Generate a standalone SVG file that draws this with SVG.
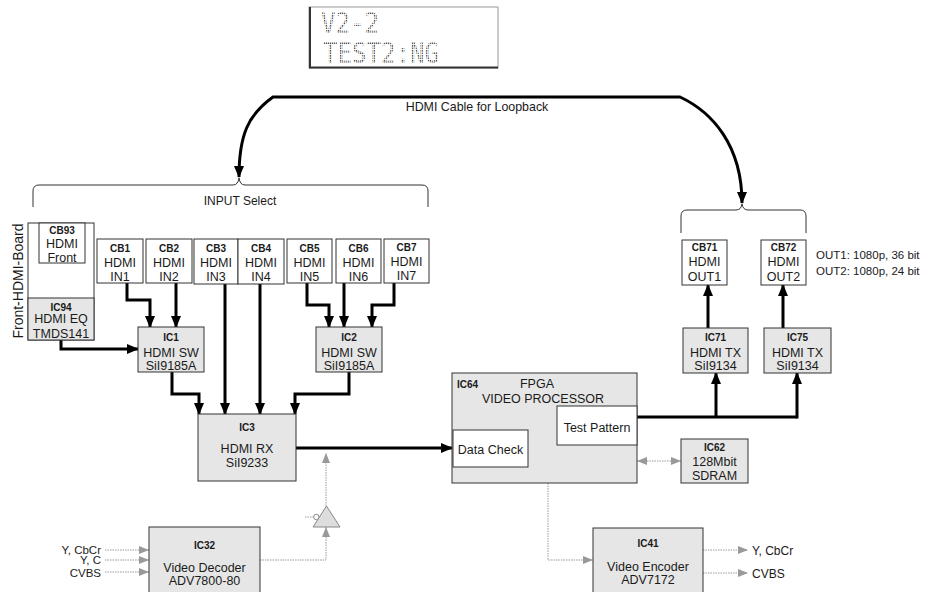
<svg xmlns="http://www.w3.org/2000/svg" width="925" height="592" viewBox="0 0 925 592">
<defs>
<style>
.box{fill:#fff;stroke:#333;stroke-width:1}
.gbox{fill:#e6e6e6;stroke:#333;stroke-width:1}
.t{font-family:"Liberation Sans",Arial,sans-serif;font-size:12.5px;text-anchor:middle;fill:#1a1a1a}
.b{font-weight:bold;font-size:10px}
.s{font-size:12px}
.thick{stroke:#000;stroke-width:3;fill:none;stroke-linejoin:miter;marker-end:url(#ah)}
.dot{stroke:#9a9a9a;stroke-width:1;stroke-dasharray:1.5 1;fill:none}
.ga{marker-end:url(#gh)}
.brace{stroke:#333;stroke-width:1;fill:none}
.lcd{font-family:"DejaVu Sans Mono",monospace;font-size:23px;fill:url(#dots)}
</style>
<marker id="ah" viewBox="0 0 12 10" markerWidth="12" markerHeight="10" refX="11" refY="5" orient="auto-start-reverse" markerUnits="userSpaceOnUse">
<path d="M0,0 L12,5 L0,10 z" fill="#000"/>
</marker>
<marker id="gh" viewBox="0 0 10 8" markerWidth="10" markerHeight="8" refX="10" refY="4" orient="auto-start-reverse" markerUnits="userSpaceOnUse">
<path d="M0,0 L10,4 L0,8 z" fill="#999"/>
</marker>
<pattern id="dots" width="2" height="2" patternUnits="userSpaceOnUse">
<rect x="0" y="0" width="1.3" height="1.3" fill="#555"/>
</pattern>
</defs>
<rect width="925" height="592" fill="#fff"/>

<g id="lcd">
<rect x="309" y="7" width="189" height="61" fill="#fff" stroke="#999" stroke-width="1"/>
<line x1="310" y1="7" x2="310" y2="68" stroke="#333" stroke-width="2"/>
<line x1="309" y1="67.5" x2="498" y2="67.5" stroke="#333" stroke-width="2"/>
<g transform="scale(1,1.25)">
<text class="lcd" x="321" y="26.4" textLength="58" lengthAdjust="spacingAndGlyphs">V2-2</text>
<text class="lcd" x="323" y="50.4" textLength="116" lengthAdjust="spacingAndGlyphs">TEST2:NG</text>
</g>
</g>

<g id="connectors">
<path d="M239,177 C239,135 248,115 273,97 L680,97 C712,112 742,145 742,203" stroke="#000" stroke-width="3" fill="none" marker-start="url(#ah)" marker-end="url(#ah)"/>
<path class="brace" d="M33,207 L33,191 Q33,185 39,185 L233,185 Q238,185 239,178 Q240,185 245,185 L422,185 Q428,185 428,191 L428,207"/>
<path class="brace" d="M681,233 L681,216 Q681,210 687,210 L736,210 Q741,210 742,204 Q743,210 748,210 L800,210 Q806,210 806,216 L806,233"/>

<path class="thick" d="M61,263 L61,298"/>
<path class="thick" d="M61,340 L61,349 L138,349"/>
<path class="thick" d="M127,283 L127,300 L150,300 L150,327"/>
<path class="thick" d="M176,283 L176,327"/>
<path class="thick" d="M225,284 L225,414"/>
<path class="thick" d="M260,284 L260,414"/>
<path class="thick" d="M307,283 L307,305 L329,305 L329,327"/>
<path class="thick" d="M344,283 L344,327"/>
<path class="thick" d="M394,283 L394,305 L372,305 L372,327"/>
<path class="thick" d="M172,372 L172,394 L199,394 L199,414"/>
<path class="thick" d="M349,372 L349,394 L295,394 L295,414"/>
<path class="thick" d="M296,448 L452,448"/>
<path d="M637,417 L797,417" stroke="#000" stroke-width="3" fill="none"/>
<path class="thick" d="M797,418.5 L797,373"/>
<path class="thick" d="M716,417 L716,373"/>
<path class="thick" d="M708,328 L708,285"/>
<path class="thick" d="M783,328 L783,285"/>

<path class="dot ga" d="M105,550 L149,550"/>
<path class="dot ga" d="M105,560 L149,560"/>
<path class="dot ga" d="M105,572 L149,572"/>
<path class="dot ga" d="M260,560 L326,560 L326,527"/>
<path class="dot ga" d="M326,506 L326,453"/>
<path class="dot" d="M305,517 L313.5,517"/>
<path class="dot ga" d="M548,483 L548,560 L593,560"/>
<path class="dot ga" d="M637,461 L681,461" marker-start="url(#gh)"/>
<path class="dot ga" d="M703,550 L748,550"/>
<path class="dot ga" d="M703,573 L748,573"/>
</g>

<g id="buffer">
<polygon points="313,527 340,527 326.5,506" fill="#ddd" stroke="#888" stroke-width="1"/>
<circle cx="316.3" cy="517" r="2.7" fill="#fff" stroke="#888" stroke-width="1"/>
</g>

<g id="front-board">
<rect class="box" x="28" y="223" width="66" height="117"/>
<text class="t" x="23" y="281" transform="rotate(-90 23 281)" style="font-size:14px">Front-HDMI-Board</text>
</g>
<g id="CB93">
<rect class="box" x="39" y="223" width="46" height="40"/>
<text class="t b" x="62" y="234">CB93</text>
<text class="t" x="62" y="247.5">HDMI</text>
<text class="t" x="62" y="262">Front</text>
</g>
<g id="IC94">
<rect class="gbox" x="28" y="298" width="66" height="42"/>
<text class="t b" x="61" y="311">IC94</text>
<text class="t" x="61" y="323">HDMI EQ</text>
<text class="t" x="61" y="337.5">TMDS141</text>
</g>

<g id="CB1"><rect class="box" x="97" y="239" width="46" height="44"/>
<text class="t b" x="120" y="251.5">CB1</text><text class="t" x="120" y="266.5">HDMI</text><text class="t" x="120" y="281">IN1</text></g>
<g id="CB2"><rect class="box" x="146" y="239" width="46" height="44"/>
<text class="t b" x="169" y="251.5">CB2</text><text class="t" x="169" y="266.5">HDMI</text><text class="t" x="169" y="281">IN2</text></g>
<g id="CB3"><rect class="box" x="194" y="239" width="44" height="45"/>
<text class="t b" x="216" y="251.5">CB3</text><text class="t" x="216" y="266.5">HDMI</text><text class="t" x="216" y="281">IN3</text></g>
<g id="CB4"><rect class="box" x="238" y="239" width="46" height="45"/>
<text class="t b" x="261" y="251.5">CB4</text><text class="t" x="261" y="266.5">HDMI</text><text class="t" x="261" y="281">IN4</text></g>
<g id="CB5"><rect class="box" x="287" y="239" width="45" height="44"/>
<text class="t b" x="309.5" y="251.5">CB5</text><text class="t" x="309.5" y="266.5">HDMI</text><text class="t" x="309.5" y="281">IN5</text></g>
<g id="CB6"><rect class="box" x="336" y="239" width="45" height="44"/>
<text class="t b" x="358.5" y="251.5">CB6</text><text class="t" x="358.5" y="266.5">HDMI</text><text class="t" x="358.5" y="281">IN6</text></g>
<g id="CB7"><rect class="box" x="384" y="239" width="45" height="44"/>
<text class="t b" x="406.5" y="250.5">CB7</text><text class="t" x="406.5" y="265.5">HDMI</text><text class="t" x="406.5" y="280">IN7</text></g>

<g id="IC1"><rect class="gbox" x="138" y="327" width="66" height="45"/>
<text class="t b" x="171" y="340.5">IC1</text><text class="t" x="171" y="356.5">HDMI SW</text><text class="t" x="171" y="369.5">SiI9185A</text></g>
<g id="IC2"><rect class="gbox" x="316" y="327" width="66" height="45"/>
<text class="t b" x="349" y="340.5">IC2</text><text class="t" x="349" y="356.5">HDMI SW</text><text class="t" x="349" y="369.5">SiI9185A</text></g>

<g id="IC3"><rect class="gbox" x="198" y="414" width="98" height="67"/>
<text class="t b" x="247" y="430.5">IC3</text><text class="t" x="247" y="452.5">HDMI RX</text><text class="t" x="247" y="466.5">SiI9233</text></g>

<g id="IC64"><rect class="gbox" x="452" y="373" width="185" height="110"/>
<text class="t b" x="457" y="387.5" style="text-anchor:start">IC64</text>
<text class="t" x="537" y="387.5">FPGA</text>
<text class="t" x="543" y="402.5">VIDEO PROCESSOR</text></g>
<g id="DataCheck"><rect class="box" x="453" y="430" width="75" height="37"/>
<text class="t" x="490.5" y="453.5">Data Check</text></g>
<g id="TestPattern"><rect class="box" x="557" y="406" width="80" height="39"/>
<text class="t" x="597" y="432">Test Pattern</text></g>

<g id="IC62"><rect class="gbox" x="681" y="439" width="67" height="44"/>
<text class="t b" x="714.5" y="450.5">IC62</text><text class="t" x="714.5" y="466">128Mbit</text><text class="t" x="714.5" y="480">SDRAM</text></g>

<g id="CB71"><rect class="box" x="682" y="240" width="45" height="45"/>
<text class="t b" x="704.5" y="250.5">CB71</text><text class="t" x="704.5" y="265.5">HDMI</text><text class="t" x="704.5" y="280.5">OUT1</text></g>
<g id="CB72"><rect class="box" x="761" y="240" width="45" height="45"/>
<text class="t b" x="783.5" y="250.5">CB72</text><text class="t" x="783.5" y="265.5">HDMI</text><text class="t" x="783.5" y="280.5">OUT2</text></g>
<g id="IC71"><rect class="gbox" x="683" y="328" width="65" height="45"/>
<text class="t b" x="715.5" y="340.5">IC71</text><text class="t" x="715.5" y="356.5">HDMI TX</text><text class="t" x="715.5" y="369.5">SiI9134</text></g>
<g id="IC75"><rect class="gbox" x="764" y="328" width="67" height="45"/>
<text class="t b" x="797.5" y="340.5">IC75</text><text class="t" x="797.5" y="356.5">HDMI TX</text><text class="t" x="797.5" y="369.5">SiI9134</text></g>

<g id="IC32"><rect class="gbox" x="149" y="527" width="111" height="80"/>
<text class="t b" x="204.5" y="548.5">IC32</text><text class="t" x="204.5" y="571.5">Video Decoder</text><text class="t" x="204.5" y="584.5">ADV7800-80</text></g>
<g id="IC41"><rect class="gbox" x="593" y="528" width="110" height="80"/>
<text class="t b" x="648" y="546.5">IC41</text><text class="t" x="648" y="570.5">Video Encoder</text><text class="t" x="648" y="583.5">ADV7172</text></g>

<g id="labels">
<text class="t" x="477" y="111" style="font-size:12.4px">HDMI Cable for Loopback</text>
<text class="t s" x="240" y="205">INPUT Select</text>
<text class="t" x="816" y="259" style="text-anchor:start;font-size:11.5px">OUT1: 1080p, 36 bit</text>
<text class="t" x="816" y="275" style="text-anchor:start;font-size:11.5px">OUT2: 1080p, 24 bit</text>
<text class="t" x="101" y="554" style="text-anchor:end;font-size:11.5px">Y, CbCr</text>
<text class="t" x="101" y="564" style="text-anchor:end;font-size:11.5px">Y, C</text>
<text class="t" x="101" y="576.5" style="text-anchor:end;font-size:11.5px">CVBS</text>
<text class="t s" x="752" y="554.5" style="text-anchor:start">Y, CbCr</text>
<text class="t s" x="752" y="577.5" style="text-anchor:start">CVBS</text>
</g>
</svg>
